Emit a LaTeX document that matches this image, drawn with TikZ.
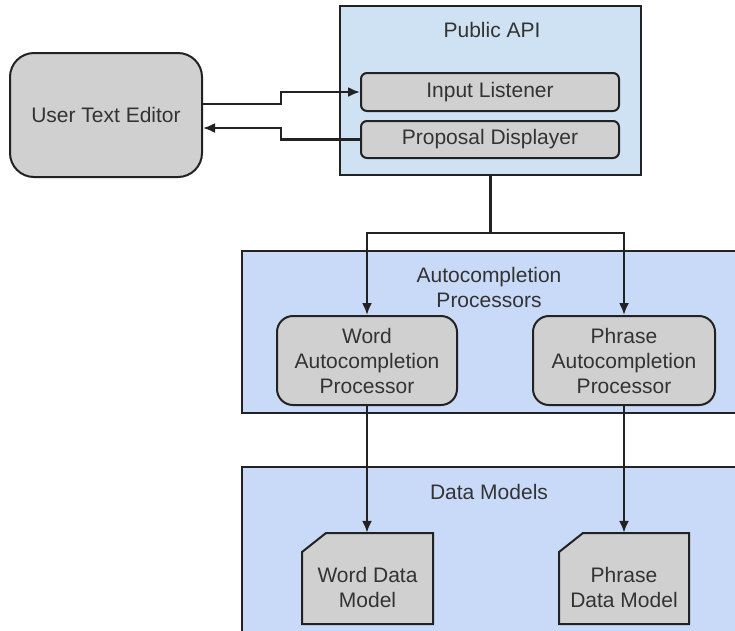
\documentclass[tikz,border=0pt]{standalone}
\usepackage{fontspec}
\setmainfont{Liberation Sans}
\usetikzlibrary{arrows.meta}
\definecolor{apiblue}{HTML}{CFE2F3}
\definecolor{laneblue}{HTML}{C9DAF8}
\definecolor{boxgrey}{HTML}{D0D0D0}
\definecolor{linecol}{HTML}{222222}
\definecolor{txtcol}{HTML}{333333}
\begin{document}
\begin{tikzpicture}[x=1pt,y=-1pt,
  every node/.style={font=\fontsize{21}{25}\selectfont, text=txtcol, inner sep=0pt},
  lane/.style={draw=linecol, line width=2pt, fill=laneblue},
  apibox/.style={draw=linecol, line width=2pt, fill=apiblue},
  proc/.style={draw=linecol, line width=2pt, fill=boxgrey, rounded corners=#1, align=center},
  proc/.default=8pt,
  card/.style={draw=linecol, line width=2pt, fill=boxgrey},
  conn/.style={draw=linecol, line width=2.2pt},
  arr/.style={conn, -{Latex[length=12pt,width=10pt]}},
  title/.style={align=center}
]
\useasboundingbox (0,0) rectangle (735,630);
\clip (0,0) rectangle (735,630);
\fill[white] (0,0) rectangle (735,630);

% lanes
\path[lane] (242,251) rectangle (760,413);
\path[lane] (242,467) rectangle (760,660);
\node[title] (acptitle) at (489,287.5) {Autocompletion\\Processors};
\node[title] (dmtitle) at (489,492) {Data Models};

% public API
\node[apibox, minimum width=301pt, minimum height=169pt] (api) at (490.5,90.5) {};
\node[title] (apititle) at (492,30) {Public API};
\node[proc=6pt, minimum width=258pt, minimum height=38pt] (inl) at (490,92) {Input Listener};
\node[proc=6pt, minimum width=258pt, minimum height=37pt] (pd) at (490,139.5) {Proposal Displayer};

% editor
\node[proc=24pt, minimum width=192pt, minimum height=124pt] (ute) at (106,115) {User Text Editor};

% processors
\node[proc=16pt, minimum width=180pt, minimum height=89pt] (wap) at (367,360.5) {Word\\Autocompletion\\Processor};
\node[proc=16pt, minimum width=182pt, minimum height=89pt] (pap) at (624,360.5) {Phrase\\Autocompletion\\Processor};

% data models (card shapes)
\path[card] (302,552) -- (326,533) -- (433,533) -- (433,624) -- (302,624) -- cycle;
\path[card] (559,552) -- (583,533) -- (689,533) -- (689,624) -- (559,624) -- cycle;
\node[minimum width=131pt, minimum height=91pt] (wdm) at (367.5,578.5) {};
\node[minimum width=130pt, minimum height=91pt] (pdm) at (624,578.5) {};
\node[title] (wdmtext) at (367.5,587.5) {Word Data\\Model};
\node[title] (pdmtext) at (624,587.5) {Phrase\\Data Model};

% connectors
\draw[arr] (ute.east |- 0,104) -- (281,104) |- (inl.west);
\draw[arr] (pd.west) -- (281,139.5) |- (ute.east |- 0,128);
\draw[conn] (api.south) -- (api.south |- 0,233) coordinate (split);
\draw[arr] (split) -| (wap.north);
\draw[arr] (split) -| (pap.north);
\draw[arr] (wap.south) -- (wap.south |- wdm.north);
\draw[arr] (pap.south) -- (pap.south |- pdm.north);
\end{tikzpicture}
\end{document}
